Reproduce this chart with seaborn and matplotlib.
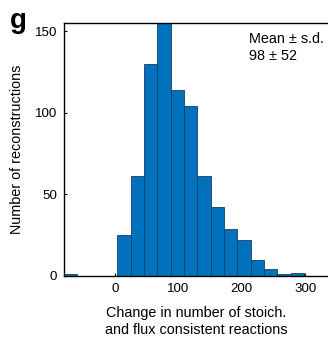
import numpy as np
import pandas as pd
import matplotlib
matplotlib.use("Agg")
import matplotlib.pyplot as plt
import seaborn as sns

# Histogram data (bin edges and counts)
bin_edges = [-80, -59, -38, -17, 4, 25, 46, 67, 88, 109, 130, 151, 172, 193, 214, 235, 256, 277, 298]
counts = [1, 0, 0, 0, 25, 61, 130, 159, 114, 104, 61, 42, 29, 22, 10, 4, 1, 2]
x_ticks = [0, 100, 200, 300]
y_ticks = [0, 50, 100, 150]
x_label = "Change in number of stoich.\nand flux consistent reactions"
y_label = "Number of reconstructions"
stat_text = "Mean \u00b1 s.d.\n98 \u00b1 52"
panel_label = "g"

sns.set_style("ticks")
plt.rcParams['font.family'] = ['Liberation Sans', 'DejaVu Sans']
plt.rcParams['text.color'] = 'black'
plt.rcParams['axes.labelcolor'] = 'black'
plt.rcParams['xtick.color'] = 'black'
plt.rcParams['ytick.color'] = 'black'

centers = [(bin_edges[i] + bin_edges[i + 1]) / 2 for i in range(len(counts))]
df = pd.DataFrame({"value": centers, "count": counts})

fig = plt.figure(figsize=(3.28, 3.37), dpi=100)
ax = fig.add_axes([64 / 328, 61 / 337, 264 / 328, 253 / 337])

sns.histplot(data=df, x="value", weights="count", bins=bin_edges, ax=ax,
             color="#0072BD", edgecolor="#163d63", linewidth=0.6, alpha=1.0)

ax.set_xlim(-80, 336)
ax.set_ylim(0, 155)
ax.set_xticks(x_ticks)
ax.set_yticks(y_ticks)
ax.tick_params(direction="in", length=2.5, width=0.8, labelsize=9.6, pad=5,
               colors="black", labelcolor="black")
for side in ["left", "bottom", "top"]:
    ax.spines[side].set_visible(True)
    ax.spines[side].set_linewidth(1.0)
    ax.spines[side].set_color("black")
ax.spines["right"].set_visible(False)

ax.set_xlabel(x_label, fontsize=10.4, labelpad=8, linespacing=1.3, color="black")
ax.set_ylabel(y_label, fontsize=10.4, labelpad=8, color="black")

ax.text(0.70, 0.965, stat_text, transform=ax.transAxes, ha="left", va="top",
        fontsize=10.4, linespacing=1.25, color="black")

fig.text(10 / 328, 1 - 8 / 337, panel_label, fontsize=20, fontweight="bold",
         ha="left", va="top", color="black")

fig.savefig("out.png", dpi=100)
